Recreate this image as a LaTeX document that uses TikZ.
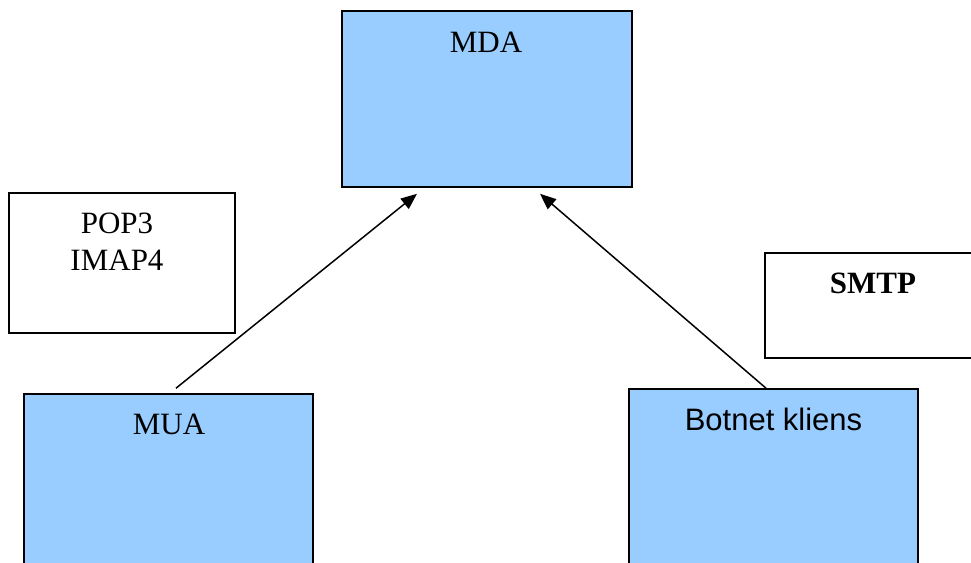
\documentclass[tikz,border=0pt]{standalone}
\usepackage{fontspec}
\setmainfont{Liberation Serif}
\newfontfamily\arialfont{Liberation Sans}
\usetikzlibrary{arrows.meta,calc}
\definecolor{boxblue}{HTML}{99CCFF}
\begin{document}
\begin{tikzpicture}[x=1pt,y=-1pt,
  bigfont/.style={font=\fontsize{31}{37}\selectfont},
  bluebox/.style={draw=black,line width=1.6pt,fill=boxblue,inner sep=0pt},
  whitebox/.style={draw=black,line width=1.6pt,fill=white,inner sep=0pt},
  lbl/.style={bigfont,inner sep=0pt},
  conn/.style={line width=1.5pt,-{Triangle[length=16pt,width=13pt]}}]
\useasboundingbox (0,0) rectangle (971,562);
\clip (0,0) rectangle (971,562);
% boxes
\node[bluebox,minimum width=290pt,minimum height=176pt] (mda) at (487,99) {};
\node[whitebox,minimum width=226pt,minimum height=140pt] (pop) at (122,263) {};
\node[whitebox,minimum width=216pt,minimum height=105pt] (smtp) at (873,305.5) {};
\node[bluebox,minimum width=289pt,minimum height=206pt] (mua) at (168.5,497) {};
\node[bluebox,minimum width=289pt,minimum height=211pt] (bot) at (773.5,494.5) {};
% labels
\node[lbl,anchor=base] (mdatxt) at (486,52) {MDA};
\node[lbl,anchor=north,align=center] (poptxt) at (117,212.5) {POP3\\IMAP4};
\node[lbl,anchor=base,font=\fontsize{31}{37}\selectfont\bfseries] (smtptxt) at (873,293) {SMTP};
\node[lbl,anchor=base] (muatxt) at (169,434) {MUA};
\node[lbl,anchor=base,font=\fontsize{31}{37}\selectfont\arialfont] (bottxt) at (773.5,430) {Botnet kliens};
% connectors
\draw[conn] ($(mua.north)+(7.5,-5)$) -- ($(mda.south)+(-70,6)$);
\draw[conn] ($(bot.north)+(-7.5,0)$) -- ($(mda.south)+(53,6)$);
\end{tikzpicture}
\end{document}
